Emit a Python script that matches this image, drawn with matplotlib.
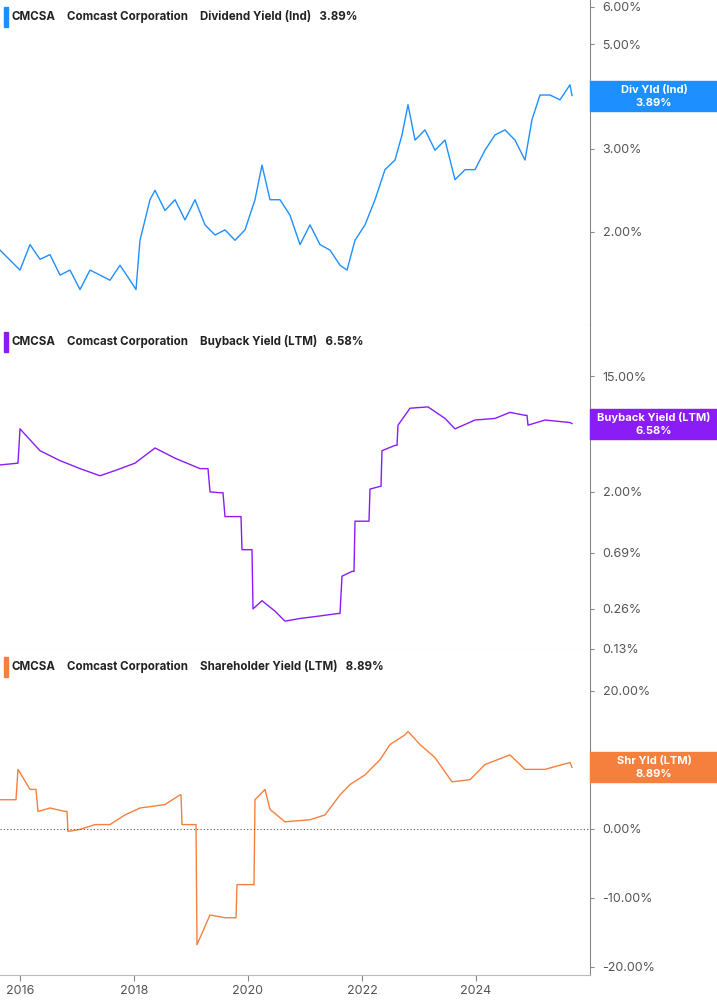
import matplotlib
matplotlib.use("Agg")
import matplotlib.pyplot as plt
import matplotlib.ticker as mt
import numpy as np

X0 = 2015.65; PXY = 57.0
def yr(xs): return [X0 + x / PXY for x in xs]

div_x = [0,20,30,40,50,60,70,80,90,100,110,120,130,136,140,150,155,165,175,185,195,205,215,225,235,245,255,262,270,280,290,300,310,320,330,340,347,355,365,375,385,395,402,408,415,425,435,445,455,465,475,485,495,505,515,525,532,540,550,560,570,572]
div_v = [1.83,1.66,1.88,1.75,1.79,1.62,1.66,1.51,1.66,1.62,1.58,1.70,1.58,1.51,1.92,2.34,2.45,2.22,2.34,2.12,2.34,2.07,1.97,2.02,1.92,2.02,2.34,2.77,2.34,2.34,2.17,1.88,2.07,1.88,1.83,1.70,1.66,1.92,2.07,2.34,2.71,2.84,3.21,3.72,3.13,3.29,2.98,3.13,2.58,2.71,2.71,2.98,3.21,3.29,3.13,2.84,3.46,3.90,3.90,3.81,4.10,3.89]

bb_x = [0,18,20,40,60,80,100,115,135,155,175,200,208,210,220,223,225,240,241,242,250,252,253,262,275,285,300,320,338,340,342,352,354,355,368,369,370,380,381,382,395,397,398,410,428,445,455,475,495,510,525,527,528,545,570,572]
bb_v = [3.2,3.3,6.0,4.1,3.45,3.0,2.65,2.9,3.3,4.3,3.6,3.0,3.0,2.0,1.97,1.97,1.3,1.3,1.3,0.73,0.73,0.73,0.26,0.30,0.25,0.21,0.22,0.23,0.24,0.24,0.46,0.50,0.50,1.20,1.2,1.2,2.1,2.2,2.2,4.1,4.5,4.5,6.4,8.6,8.8,7.2,6.0,7.0,7.2,8.0,7.6,7.6,6.4,7.0,6.7,6.58]

sh_x = [0,16,18,30,36,38,50,65,67,68,80,95,110,125,140,165,180,181,182,195,196,197,210,225,236,237,252,254,255,265,270,285,310,325,340,350,365,380,390,405,408,420,435,452,470,485,510,525,545,570,572]
sh_v = [4.2,4.2,8.6,5.7,5.7,2.5,3.0,2.5,2.5,-0.4,-0.1,0.6,0.6,2.0,3.0,3.5,4.9,4.9,0.6,0.6,0.6,-16.8,-12.5,-12.9,-12.9,-8.1,-8.1,-8.1,4.2,5.7,2.8,1.0,1.3,2.0,4.9,6.4,7.8,10.0,12.2,13.6,14.1,12.2,10.3,6.8,7.1,9.3,10.7,8.6,8.6,9.6,8.89]

years = [2016, 2018, 2020, 2022, 2024]
div_ticks = [2, 3, 5, 6]
bb_ticks = [0.13, 0.26, 0.69, 2, 15]
sh_ticks = [-20, -10, 0, 20]

BLUE = "#1e8fff"; PURPLE = "#8a1cf5"; ORANGE = "#f5803e"
W, H = 717, 1005
fig = plt.figure(figsize=(W/100, H/100), dpi=100)
plt.rcParams["font.family"] = "Inter"

def mkax(top, bot):
    ax = fig.add_axes([0, 1 - bot/H, 590/W, (bot - top)/H])
    for s in ["left", "top"]:
        ax.spines[s].set_visible(False)
    ax.spines["right"].set_color("#888888")
    ax.spines["bottom"].set_color("#bbbbbb")
    ax.yaxis.tick_right()
    ax.tick_params(axis="y", length=3, color="#888888", labelsize=9, labelcolor="#555555", pad=6)
    ax.set_xlim(X0, X0 + 590/PXY)
    return ax

specs = [
    (0, 325, div_x, div_v, BLUE, "Dividend Yield (Ind)", "3.89%", "Div Yld (Ind)", "log", (1.27, 6.2), div_ticks),
    (325, 650, bb_x, bb_v, PURPLE, "Buyback Yield (LTM)", "6.58%", "Buyback Yield (LTM)", "log", (0.127, 36.7), bb_ticks),
    (650, 975, sh_x, sh_v, ORANGE, "Shareholder Yield (LTM)", "8.89%", "Shr Yld (LTM)", "linear", (-21.2, 25.9), sh_ticks),
]
for i, (t, b, xs, vs, c, name, last, tag, sc, lim, ticks) in enumerate(specs):
    ax = mkax(t, b)
    ax.set_yscale(sc)
    ax.set_ylim(*lim)
    ax.yaxis.set_minor_locator(mt.NullLocator())
    ax.set_yticks(ticks)
    ax.set_yticklabels([f"{v:.2f}%" for v in ticks])
    ax.plot(yr(xs), vs, color=c, lw=1.0)
    if i < 2:
        ax.set_xticks([])
    else:
        ax.set_xticks(years)
        ax.set_xticklabels([str(y) for y in years])
        ax.tick_params(axis="x", length=4, color="#888888", labelsize=9, labelcolor="#555555")
        ax.axhline(0, color="#555555", lw=0.8, ls=(0, (1, 2)))
    fig.patches.append(plt.Rectangle((4/W, 1 - (t + 27)/H), 4/W, 20/H, transform=fig.transFigure, color=c))
    yy = 1 - (t + 17)/H
    fs = 8.3
    fig.text(12/W, yy, "CMCSA", fontsize=fs, fontweight="bold", va="center", color="#222222")
    fig.text(67/W, yy, "Comcast Corporation", fontsize=fs, fontweight="bold", va="center", color="#222222")
    fig.text(200/W, yy, name + "   " + last, fontsize=fs, fontweight="bold", va="center", color="#222222")
    yv = vs[-1]
    ty = H - ax.transData.transform((yr([570])[0], yv))[1]
    fig.patches.append(plt.Rectangle((590/W, 1 - (ty + 15)/H), 127/W, 30/H, transform=fig.transFigure, color=c))
    fig.text(654/W, 1 - (ty - 6)/H, tag, color="white", fontsize=8, fontweight="bold", ha="center", va="center")
    fig.text(654/W, 1 - (ty + 7)/H, last, color="white", fontsize=8, fontweight="bold", ha="center", va="center")

fig.savefig("out.png", dpi=100)
